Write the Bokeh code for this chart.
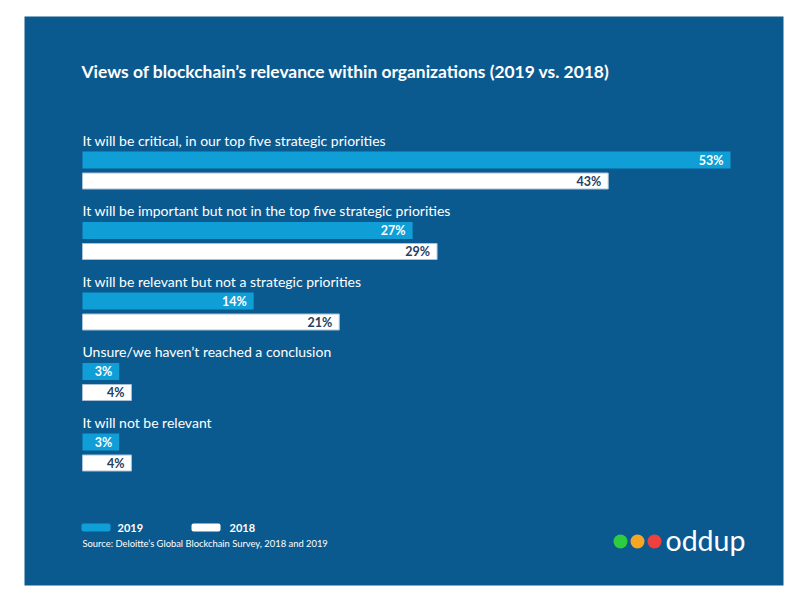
from bokeh.plotting import figure
from bokeh.models import Range1d, ColumnDataSource
from bokeh.core.properties import value
from bokeh.embed import file_html
from bokeh.resources import INLINE

# ---- data ----
categories = [
    "It will be critical, in our top five strategic priorities",
    "It will be important but not in the top five strategic priorities",
    "It will be relevant but not a strategic priorities",
    "Unsure/we haven\u2019t reached a conclusion",
    "It will not be relevant",
]
values_2019 = [53, 27, 14, 3, 3]
values_2018 = [43, 29, 21, 4, 4]
series_names = ["2019", "2018"]
title_text = "Views of blockchain\u2019s relevance within organizations (2019 vs. 2018)"
source_text = "Source: Deloitte\u2019s Global Blockchain Survey, 2018 and 2019"
logo_text = "oddup"

# ---- style / layout ----
PANEL = "#0b5a8f"
C2019 = "#109ed6"
C2018 = "#ffffff"
DARK = "#24405f"
FONT = "Lato"

FL, FT = 24, 16            # frame offset inside the canvas
FW, FH = 759, 569          # frame size
W, H = FL + FW + 9, FT + FH + 7
PAGE_X0, PAGE_Y0 = 24, 16  # frame origin on page
ZERO_PX = 82               # page x of value 0
K = (730 - 82) / 53.0      # pixels per percent

def xd(px):  # page px -> data x
    return (px - ZERO_PX) / K

def yd(py):  # page px -> data y (flipped pixel units)
    return py - PAGE_Y0

ROW = 70.5
TOP0 = 151
BAR_H = 17
GAP = 21

p = figure(width=W, height=H, output_backend="svg", toolbar_location=None,
           x_range=Range1d(xd(PAGE_X0), xd(PAGE_X0 + FW)),
           y_range=Range1d(FH, 0),
           x_axis_location=None, y_axis_location=None,
           min_border_left=FL, min_border_right=W - FL - FW,
           min_border_top=FT, min_border_bottom=H - FT - FH,
           background_fill_color=PANEL, border_fill_color="white",
           outline_line_color=None)
p.xgrid.visible = False
p.ygrid.visible = False

n = len(categories)
y19 = [yd(TOP0 + ROW * i + BAR_H / 2) for i in range(n)]
y18 = [yd(TOP0 + ROW * i + GAP + BAR_H / 2) for i in range(n)]
ylab = [yd(TOP0 + ROW * i - 11.5) for i in range(n)]

src = ColumnDataSource(dict(
    cat=categories, v19=values_2019, v18=values_2018,
    y19=y19, y18=y18, ylab=ylab,
    l19=[f"{v}%" for v in values_2019], l18=[f"{v}%" for v in values_2018],
    zero=[0] * n,
))

p.hbar(y="y19", left=0, right="v19", height=BAR_H, source=src,
       fill_color=C2019, line_color=None)
p.hbar(y="y18", left=0, right="v18", height=BAR_H - 1, source=src,
       fill_color=C2018, line_color="#aac0d6", line_width=1)

p.text(x="v19", y="y19", text="l19", source=src, x_offset=-7,
       text_align="right", text_baseline="middle", text_color="white",
       text_font=value(FONT), text_font_style="bold", text_font_size="12.5px")
p.text(x="v18", y="y18", text="l18", source=src, x_offset=-7,
       text_align="right", text_baseline="middle", text_color=DARK,
       text_font=value(FONT), text_font_style="bold", text_font_size="12.5px")

p.text(x="zero", y="ylab", text="cat", source=src,
       text_align="left", text_baseline="middle", text_color="white",
       text_font=value(FONT), text_font_size="14px")

# title
p.text(x=[xd(81)], y=[yd(71)], text=[title_text], text_align="left",
       text_baseline="middle", text_color="white", text_font=value(FONT),
       text_font_style="bold", text_font_size="17.4px")

# legend
sw_x = [xd(81), xd(191)]
sw_w = [xd(110) - xd(81), xd(220) - xd(191)]
p.rect(x=[a + w / 2 for a, w in zip(sw_x, sw_w)], y=[yd(527)] * 2,
       width=sw_w, height=8, fill_color=[C2019, C2018], line_color=None,
       border_radius=2)
p.text(x=[xd(117), xd(229)], y=[yd(527)] * 2, text=series_names,
       text_align="left", text_baseline="middle", text_color="white",
       text_font=value(FONT), text_font_style="bold", text_font_size="11px")

# source
p.text(x=[xd(82)], y=[yd(543)], text=[source_text], text_align="left",
       text_baseline="middle", text_color="white", text_font=value(FONT),
       text_font_size="9.4px")

# logo
p.scatter(x=[xd(620), xd(637), xd(654)], y=[yd(541)] * 3, size=14,
          fill_color=["#2ecc40", "#f5a623", "#ef4040"], line_color=None)
p.text(x=[xd(665)], y=[yd(539)], text=[logo_text], text_align="left",
       text_baseline="middle", text_color="white", text_font=value(FONT),
       text_font_size="28.5px")

open("out.html", "w").write(file_html(p, INLINE))
